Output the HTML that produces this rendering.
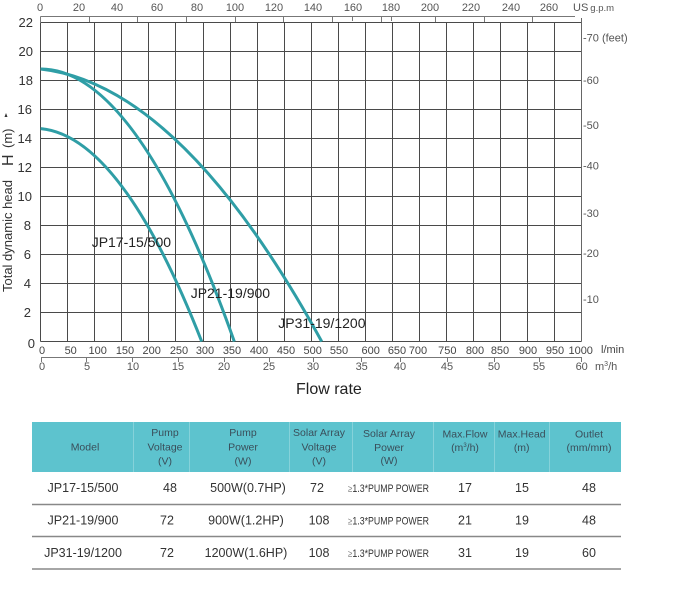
<!DOCTYPE html>
<html><head><meta charset="utf-8"><style>
html,body{margin:0;padding:0;background:#fff;}
svg{display:block;font-family:"Liberation Sans",Arial,sans-serif;}
</style></head><body>
<svg width="679" height="611" viewBox="0 0 679 611" xmlns="http://www.w3.org/2000/svg">
<rect width="679" height="611" fill="#fff"/>
<!-- grid -->
<g stroke="#4a4a4a" stroke-width="1" fill="none">
<path d="M40.5 22.5V341.5M67.5 22.5V341.5M94.5 22.5V341.5M121.5 22.5V341.5M148.5 22.5V341.5M175.5 22.5V341.5M203.5 22.5V341.5M230.5 22.5V341.5M257.5 22.5V341.5M284.5 22.5V341.5M311.5 22.5V341.5M338.5 22.5V341.5M365.5 22.5V341.5M392.5 22.5V341.5M419.5 22.5V341.5M446.5 22.5V341.5M473.5 22.5V341.5M500.5 22.5V341.5M527.5 22.5V341.5M554.5 22.5V341.5"/>
<path d="M40.5 22.5H581.5M40.5 51.5H581.5M40.5 80.5H581.5M40.5 109.5H581.5M40.5 138.5H581.5M40.5 167.5H581.5M40.5 196.5H581.5M40.5 225.5H581.5M40.5 254.5H581.5M40.5 283.5H581.5M40.5 312.5H581.5M40.5 341.5H581.5"/>
<path d="M581.5 18V341.5" stroke="#666"/>
</g>
<!-- top axis -->
<g stroke="#777" stroke-width="1">
<path d="M40.5 16.5H575"/>
<path d="M40.5 16.5V22M89.5 16.5V22M137.5 16.5V22M186.5 16.5V22M235.5 16.5V22M283.5 16.5V22M332.5 16.5V22M352.5 16.5V21M381.5 16.5V22M391.5 16.5V21M435.5 16.5V22M484.5 16.5V22M532.5 16.5V22"/>
</g>
<g font-size="11" fill="#555" text-anchor="middle">
<text x="40" y="11">0</text><text x="79" y="11">20</text><text x="117" y="11">40</text><text x="157" y="11">60</text><text x="197" y="11">80</text><text x="235" y="11">100</text><text x="274" y="11">120</text><text x="313" y="11">140</text><text x="353" y="11">160</text><text x="391" y="11">180</text><text x="430" y="11">200</text><text x="471" y="11">220</text><text x="511" y="11">240</text><text x="549" y="11">260</text>
</g>
<text x="573" y="11" font-size="11" fill="#555">US<tspan font-size="9.5" dx="2">g.p.m</tspan></text>
<!-- left axis labels -->
<g font-size="13" fill="#333" text-anchor="end">
<text x="33" y="27">22</text><text x="33" y="56">20</text><text x="33" y="85">18</text><text x="32" y="114">16</text><text x="32" y="143">14</text><text x="32" y="172">12</text><text x="32" y="201">10</text><text x="31" y="230">8</text><text x="31" y="259">6</text><text x="31" y="288">4</text><text x="31" y="317">2</text><text x="35" y="348">0</text>
</g>
<!-- left title -->
<polygon points="4.5,117 7.5,117 6,113" fill="#333"/>
<text transform="translate(12,292) rotate(-90)" font-size="13" fill="#333" textLength="112">Total dynamic head</text>
<text transform="translate(13,166) rotate(-90)" font-size="16" fill="#333">H</text>
<text transform="translate(12,148) rotate(-90)" font-size="13" fill="#333">(m)</text>
<!-- right axis -->
<g font-size="11" fill="#555">
<text x="583" y="41.5">-70 (feet)</text><text x="583" y="84">-60</text><text x="583" y="129">-50</text><text x="583" y="169.5">-40</text><text x="583" y="217">-30</text><text x="583" y="257">-20</text><text x="583" y="303">-10</text>
</g>
<!-- bottom l/min labels -->
<g font-size="11" fill="#444" text-anchor="middle">
<text x="42" y="354">0</text><text x="70.7" y="354">50</text><text x="97.7" y="354">100</text><text x="125" y="354">150</text><text x="151.7" y="354">200</text><text x="179" y="354">250</text><text x="205" y="354">300</text><text x="232" y="354">350</text><text x="259" y="354">400</text><text x="286" y="354">450</text><text x="312.7" y="354">500</text><text x="339" y="354">550</text><text x="370.7" y="354">600</text><text x="397" y="354">650</text><text x="418" y="354">700</text><text x="447.3" y="354">750</text><text x="475" y="354">800</text><text x="500" y="354">850</text><text x="528" y="354">900</text><text x="555" y="354">950</text><text x="580.7" y="354">1000</text>
</g>
<text x="601" y="353" font-size="11" fill="#444">l/min</text>
<!-- m3/h axis -->
<g stroke="#777" stroke-width="1">
<path d="M41 357.5H582"/>
<path d="M41.5 357.5V362M86.5 357.5V362M132.5 357.5V362M178.5 357.5V362M224.5 357.5V362M269.5 357.5V362M313.5 357.5V362M361.5 357.5V362M400.5 357.5V362M447.5 357.5V362M494.5 357.5V362M539.5 357.5V362M581.5 357.5V362"/>
</g>
<g font-size="11" fill="#555" text-anchor="middle">
<text x="42" y="370">0</text><text x="87" y="370">5</text><text x="133" y="370">10</text><text x="178" y="370">15</text><text x="224" y="370">20</text><text x="269" y="370">25</text><text x="313" y="370">30</text><text x="361.7" y="370">35</text><text x="400" y="370">40</text><text x="447" y="370">45</text><text x="494" y="370">50</text><text x="539" y="370">55</text><text x="581.7" y="370">60</text>
</g>
<text x="595" y="370" font-size="11" fill="#555">m<tspan font-size="7" dy="-4">3</tspan><tspan dy="4">/h</tspan></text>
<text x="296" y="394" font-size="16" fill="#222">Flow rate</text>
<!-- curves -->
<g stroke="#2f9ea6" stroke-width="3" fill="none" stroke-linecap="butt">
<path d="M40.7 128.6 Q121.2 136 201.7 341.5"/>
<path d="M40.7 69 Q137.5 69 234.3 341.5"/>
<path d="M40.7 69 Q181.2 85 321.7 341.5"/>
</g>
<g font-size="14" fill="#222">
<text x="91.7" y="247">JP17-15/500</text>
<text x="190.7" y="298">JP21-19/900</text>
<text x="278.3" y="328">JP31-19/1200</text>
</g>
<!-- table -->
<rect x="32" y="422" width="589" height="50" fill="#5dc3ce"/>
<g stroke="#ffffff" stroke-opacity="0.25" stroke-width="1">
<path d="M133.5 422V472M189.5 422V472M289.5 422V472M352.5 422V472M433.5 422V472M494.5 422V472M549.5 422V472"/>
</g>
<g font-size="10.5" fill="#3a4e5a" text-anchor="middle">
<text x="85" y="450.5">Model</text>
<text x="165" y="436">Pump</text><text x="165" y="450.5">Voltage</text><text x="165" y="464.5">(V)</text>
<text x="243" y="436">Pump</text><text x="243" y="450.5">Power</text><text x="243" y="464.5">(W)</text>
<text x="319" y="436">Solar Array</text><text x="319" y="450.5">Voltage</text><text x="319" y="464.5">(V)</text>
<text x="389" y="437">Solar Array</text><text x="389" y="451">Power</text><text x="389" y="464">(W)</text>
<text x="465" y="437.5">Max.Flow</text><text x="465" y="451">(m<tspan font-size="6" dy="-4">3</tspan><tspan dy="4">/h)</tspan></text>
<text x="521.7" y="437.5">Max.Head</text><text x="521.7" y="451">(m)</text>
<text x="589" y="437.5">Outlet</text><text x="589" y="451">(mm/mm)</text>
</g>
<g stroke="#888" stroke-width="1.5">
<path d="M32 504.5H621M32 536.5H621M32 569H621"/>
</g>
<g font-size="12.5" fill="#333" text-anchor="middle">
<text x="83" y="492">JP17-15/500</text><text x="170" y="492">48</text><text x="248" y="492">500W(0.7HP)</text><text x="317" y="492">72</text><text x="465" y="492">17</text><text x="522" y="492">15</text><text x="589" y="492">48</text>
<text x="83" y="524.5">JP21-19/900</text><text x="167" y="524.5">72</text><text x="246" y="524.5">900W(1.2HP)</text><text x="319" y="524.5">108</text><text x="465" y="524.5">21</text><text x="522" y="524.5">19</text><text x="589" y="524.5">48</text>
<text x="83" y="557">JP31-19/1200</text><text x="167" y="557">72</text><text x="246" y="557">1200W(1.6HP)</text><text x="319" y="557">108</text><text x="465" y="557">31</text><text x="522" y="557">19</text><text x="589" y="557">60</text>
</g>
<g font-size="11" fill="#333">
<text transform="translate(348,492) scale(0.8,1)"><tspan fill="#888" font-size="10">≥</tspan>1.3*PUMP POWER</text>
<text transform="translate(348,524.5) scale(0.8,1)"><tspan fill="#888" font-size="10">≥</tspan>1.3*PUMP POWER</text>
<text transform="translate(348,557) scale(0.8,1)"><tspan fill="#888" font-size="10">≥</tspan>1.3*PUMP POWER</text>
</g>
</svg>
</body></html>
